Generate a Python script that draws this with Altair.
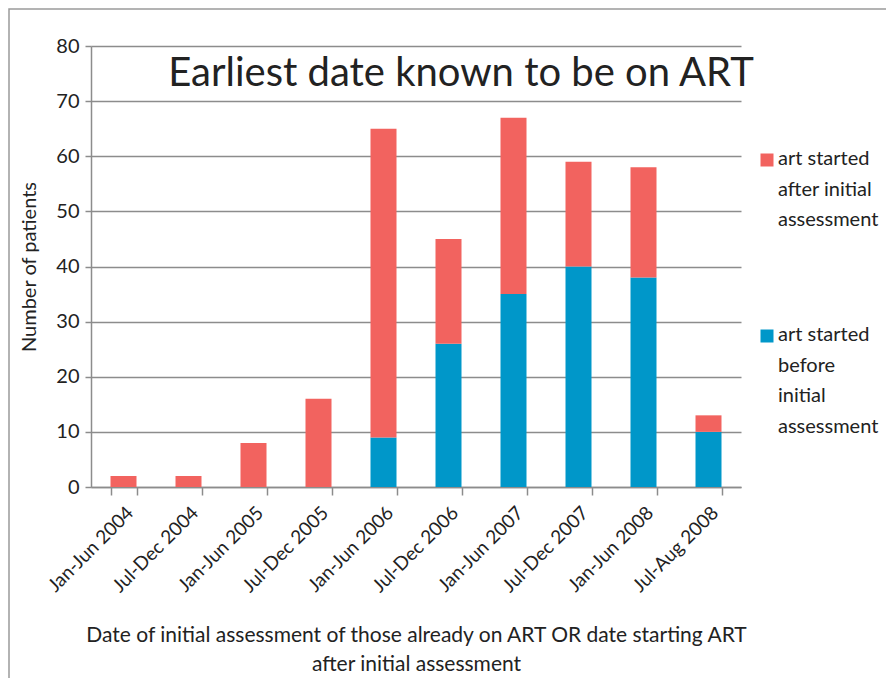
import altair as alt
import pandas as pd

categories = ["Jan-Jun 2004", "Jul-Dec 2004", "Jan-Jun 2005", "Jul-Dec 2005",
              "Jan-Jun 2006", "Jul-Dec 2006", "Jan-Jun 2007", "Jul-Dec 2007",
              "Jan-Jun 2008", "Jul-Aug 2008"]
before = [0, 0, 0, 0, 9, 26, 35, 40, 38, 10]
after = [2, 2, 8, 16, 56, 19, 32, 19, 20, 3]
series = ["art started before initial assessment", "art started after initial assessment"]
colors = ["#0097C9", "#F2635F"]
chart_title = "Earliest date known to be on ART"

FONT = "Lato, sans-serif"
GRID = "#8c8c8c"

rows = []
for i, c in enumerate(categories):
    rows.append({"period": c, "series": series[0], "value": before[i], "ord": 0})
    rows.append({"period": c, "series": series[1], "value": after[i], "ord": 1})
df = pd.DataFrame(rows)

W, H = 650, 441

bars = alt.Chart(df).mark_bar().encode(
    x=alt.X("period:N", sort=categories,
            scale=alt.Scale(paddingInner=0.6, paddingOuter=0.3),
            axis=alt.Axis(
                title=["Date of initial assessment of those already  on ART OR date starting ART",
                       "after initial assessment"],
                labelAngle=-45, labelFontSize=19, labelPadding=8,
                tickBand="extent", tickSize=8, tickColor=GRID, tickWidth=1.5,
                domainColor=GRID, domainWidth=1.5,
                titleFontSize=21, titleFontWeight="normal", titlePadding=29,
                titleLineHeight=29, labelColor="#222", titleColor="#222",
                labelFont=FONT, titleFont=FONT)),
    y=alt.Y("value:Q", stack="zero",
            scale=alt.Scale(domain=[0, 80]),
            axis=alt.Axis(title="Number of patients", values=list(range(0, 81, 10)),
                          labelFontSize=20, labelPadding=6, tickSize=6,
                          tickColor=GRID, tickWidth=1.5, gridColor=GRID, gridWidth=1.5,
                          domainColor=GRID, domainWidth=1.5,
                          titleFontSize=20, titleFontWeight="normal", titlePadding=16,
                          labelColor="#222", titleColor="#222",
                          labelFont=FONT, titleFont=FONT)),
    color=alt.Color("series:N", scale=alt.Scale(domain=series, range=colors), legend=None),
    order=alt.Order("ord:Q"),
)

one = pd.DataFrame({"t": [chart_title]})

title = alt.Chart(one).mark_text(fontSize=40, font=FONT, color="#222",
                                 align="center", baseline="middle").encode(
    x=alt.value(370), y=alt.value(28), text="t:N")

frame = alt.Chart(one).mark_rect(filled=False, stroke="#9a9a9a", strokeWidth=1.5).encode(
    x=alt.value(-82), y=alt.value(-37), x2=alt.value(900), y2=alt.value(800))

leg_after = alt.Chart(pd.DataFrame({"t": ["art started\nafter initial\nassessment"]}))
leg_before = alt.Chart(pd.DataFrame({"t": ["art started\nbefore\ninitial\nassessment"]}))

sq_after = leg_after.mark_square(size=169, color=colors[1], opacity=1).encode(
    x=alt.value(676), y=alt.value(114))
tx_after = leg_after.mark_text(fontSize=20, font=FONT, color="#222", align="left",
                               baseline="top", lineBreak="\n", lineHeight=30.5).encode(
    x=alt.value(687), y=alt.value(103), text="t:N")
sq_before = leg_before.mark_square(size=169, color=colors[0], opacity=1).encode(
    x=alt.value(676), y=alt.value(290))
tx_before = leg_before.mark_text(fontSize=20, font=FONT, color="#222", align="left",
                                 baseline="top", lineBreak="\n", lineHeight=30.5).encode(
    x=alt.value(687), y=alt.value(279), text="t:N")

chart = alt.layer(frame, bars, title, sq_after, tx_after, sq_before, tx_before).properties(
    width=W, height=H,
    autosize=alt.AutoSizeParams(type="none"),
    padding={"left": 83, "top": 38, "right": 145, "bottom": 191},
).configure_view(stroke=None).configure_axisY(grid=True).configure_axisX(grid=False)

chart.save("out.html", embed_options={"renderer": "svg", "actions": False})
